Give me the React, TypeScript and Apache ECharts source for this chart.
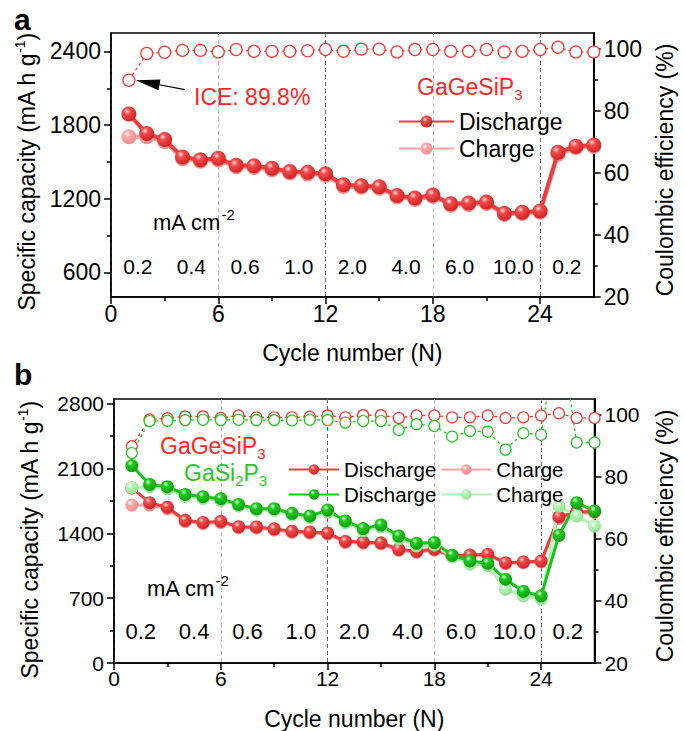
import React, { useEffect, useRef } from 'react';
import * as echarts from 'echarts';

const cycles = [1, 2, 3, 4, 5, 6, 7, 8, 9, 10, 11, 12, 13, 14, 15, 16, 17, 18, 19, 20, 21, 22, 23, 24, 25, 26, 27];
const dischargeGGSP = [1890, 1731, 1682, 1540, 1518, 1529, 1472, 1469, 1448, 1423, 1415, 1404, 1314, 1306, 1298, 1227, 1206, 1230, 1159, 1165, 1173, 1083, 1091, 1100, 1578, 1627, 1638];
const chargeGGSP = [1705, 1705, 1665, 1525, 1505, 1515, 1460, 1455, 1435, 1410, 1402, 1392, 1300, 1293, 1285, 1215, 1195, 1218, 1148, 1153, 1162, 1072, 1080, 1090, 1560, 1615, 1625];
const ceGGSP = [89.8, 98.4, 98.8, 99.4, 99.4, 98.9, 99.7, 99.1, 99.1, 99.1, 99.3, 99.7, 99.1, 99.8, 99.8, 98.9, 99.7, 99.7, 99.1, 99.1, 99.7, 98.9, 99.1, 99.7, 100.4, 98.9, 98.9];
const dischargeGSP = [2132, 1928, 1903, 1820, 1795, 1774, 1712, 1666, 1666, 1616, 1587, 1651, 1533, 1451, 1490, 1371, 1292, 1300, 1163, 1102, 1077, 905, 772, 725, 1379, 1731, 1640];
const chargeGSP = [1892, 1905, 1880, 1800, 1775, 1755, 1695, 1650, 1650, 1600, 1570, 1630, 1515, 1430, 1470, 1340, 1265, 1275, 1145, 1069, 1051, 797, 725, 690, 1694, 1587, 1479];
const ceGSP = [87.6, 97.9, 98.0, 98.2, 98.3, 98.2, 98.3, 98.2, 98.2, 98.1, 98.3, 98.2, 97.4, 97.9, 97.9, 95.0, 96.9, 96.3, 92.9, 94.7, 94.5, 88.7, 94.0, 93.5, 130, 91.0, 91.0];

const rateLabels = ['0.2', '0.4', '0.6', '1.0', '2.0', '4.0', '6.0', '10.0', '0.2'];
const rateCenters = [1.5, 4.5, 7.5, 10.5, 13.5, 16.5, 19.5, 22.5, 25.5];
const xTickLabels = [0, 6, 12, 18, 24];
const xMinorTicks = [3, 9, 15, 21];
const capTicksA = [600, 1200, 1800, 2400];
const capMinorA = [900, 1500, 2100];
const capTicksB = [0, 700, 1400, 2100, 2800];
const capMinorB = [350, 1050, 1750, 2450];
const ceTicks = [20, 40, 60, 80, 100];
const ceMinor = [30, 50, 70, 90];

const FONT = '"Liberation Sans", Arial, Helvetica, sans-serif';
const RED = '#f03c3c';
const PINK = '#ffa3a3';
const GREEN = '#17c417';
const LGREEN = '#b3f5b3';
const RED_TXT = '#ff2626';
const GREEN_TXT = '#1fcc1f';

const sphere = (hi: string, mid: string, edge: string) =>
  new echarts.graphic.RadialGradient(0.38, 0.32, 0.72, [
    { offset: 0, color: hi },
    { offset: 0.3, color: mid },
    { offset: 1, color: edge },
  ]);

const pairs = (arr: number[]) => cycles.map((c, i) => [c, arr[i]]);
const plain = (v: number) => String(v);

const axisLineStyle = { color: '#000', width: 1.5 };

function xMain(grid: number, fs: number) {
  return {
    type: 'value', gridIndex: grid, position: 'bottom', min: 0, max: 27, interval: 3,
    axisLine: { show: true, onZero: false, lineStyle: axisLineStyle },
    axisTick: { show: true, length: 7, customValues: xTickLabels, lineStyle: axisLineStyle },
    axisLabel: {
      customValues: xTickLabels, fontSize: fs, color: '#000', fontFamily: FONT, margin: 5,
      formatter: (v: number) => (v % 6 === 0 && v < 27 ? String(v) : ''),
    },
    splitLine: { show: true, lineStyle: { type: [4, 3], color: ['#666', '#bbb'], width: 1 } },
    name: 'Cycle number (N)', nameLocation: 'middle', nameGap: 44,
    nameTextStyle: { fontSize: 23, color: '#000', fontFamily: FONT },
  };
}
function xMinor(grid: number) {
  return {
    type: 'value', gridIndex: grid, position: 'bottom', min: 0, max: 27,
    axisLine: { show: false, onZero: false },
    axisTick: { show: true, length: 4, customValues: xMinorTicks, lineStyle: axisLineStyle },
    axisLabel: { show: false }, splitLine: { show: false },
  };
}
function yMain(grid: number, pos: string, min: number, max: number, ticks: number[], fs: number, name: string, gap: number, lw: number, shift: number) {
  return {
    type: 'value', gridIndex: grid, position: pos, min, max,
    axisLine: { show: true, onZero: false, lineStyle: { color: '#000', width: lw } },
    axisTick: { show: true, length: 7, customValues: ticks, lineStyle: axisLineStyle },
    axisLabel: { customValues: ticks, fontSize: fs, color: '#000', fontFamily: FONT, margin: 10, formatter: plain },
    splitLine: { show: false },
    name, nameLocation: 'middle', nameGap: gap, nameRotate: 90,
    nameTextStyle: {
      fontSize: 23, color: '#000', fontFamily: FONT,
      padding: [0, shift, 0, 0],
      rich: {
        n: { fontSize: 23, lineHeight: 28, fontFamily: FONT, color: '#000' },
        sup: { fontSize: 14, verticalAlign: 'top', lineHeight: 14, fontFamily: FONT, color: '#000' },
      },
    },
  };
}
function yMinor(grid: number, pos: string, min: number, max: number, ticks: number[]) {
  return {
    type: 'value', gridIndex: grid, position: pos, min, max,
    axisLine: { show: false, onZero: false },
    axisTick: { show: true, length: 4, customValues: ticks, lineStyle: axisLineStyle },
    axisLabel: { show: false }, splitLine: { show: false },
  };
}

function capSeries(name: string, xi: number, yi: number, data: number[], lineColor: string, grad: any, size: number, width: number, z: number) {
  return {
    type: 'line', name, xAxisIndex: xi, yAxisIndex: yi, data: pairs(data),
    symbol: 'circle', symbolSize: size, showSymbol: true,
    lineStyle: { color: lineColor, width }, itemStyle: { color: grad, borderWidth: 0 },
    z, silent: true, emphasis: { disabled: true },
  };
}
function ceSeries(name: string, xi: number, yi: number, data: number[], color: string, size: number, z: number) {
  return {
    type: 'line', name, xAxisIndex: xi, yAxisIndex: yi, data: pairs(data),
    symbol: 'circle', symbolSize: size, showSymbol: true,
    itemStyle: { color: '#fff', borderColor: color, borderWidth: 1.2 },
    lineStyle: { color, width: 1.3, type: [3, 3] },
    z, silent: true, emphasis: { disabled: true },
  };
}
function rateSeries(xi: number, yi: number, y: number, fs: number) {
  return {
    type: 'scatter', xAxisIndex: xi, yAxisIndex: yi, symbolSize: 1,
    itemStyle: { color: '#000', opacity: 0 },
    data: rateCenters.map((x, i) => ({ value: [x, y], name: rateLabels[i] })),
    label: {
      show: true, position: 'inside', formatter: (p: any) => p.name, fontSize: fs,
      color: '#000', opacity: 1, textBorderWidth: 0, fontFamily: FONT,
    },
    silent: true, z: 6,
  };
}

function txt(x: number, y: number, text: string, fs: number, color: string, extra: any = {}) {
  return {
    type: 'text', x, y, silent: true, z: 100,
    style: {
      text, fill: color, fontSize: fs, fontFamily: FONT,
      align: 'left', verticalAlign: 'middle', textAlign: 'left', textVerticalAlign: 'middle',
      rich: {
        n: { fontSize: fs, lineHeight: 30, fontFamily: FONT, fill: color, color },
        sub: { fontSize: 15, lineHeight: 15, verticalAlign: 'bottom', fontFamily: FONT, fill: color, color },
        sup: { fontSize: 15, lineHeight: 15, verticalAlign: 'top', fontFamily: FONT, fill: color, color },
      },
      ...extra,
    },
  };
}

const yName = '{n|Specific capacity (mA h g}{sup|-1}{n|)}';
const ceName = '{n|Coulombic efficiency (%)}';

export default function App() {
  const ref = useRef<HTMLDivElement>(null);
  useEffect(() => {
    if (!ref.current) return;
    const chart = echarts.init(ref.current, undefined, { renderer: 'svg' });
    const option: any = {
      animation: false,
      backgroundColor: '#fff',
      grid: [
        { left: 111, top: 33, width: 490, height: 264, show: true, borderColor: '#000', borderWidth: 1.5, backgroundColor: 'transparent' },
        { left: 114, top: 399, width: 491, height: 265, show: true, borderColor: '#000', borderWidth: 1.5, backgroundColor: 'transparent' },
      ],
      xAxis: [xMain(0, 23), xMinor(0), xMain(1, 21), xMinor(1)],
      yAxis: [
        yMain(0, 'left', 400, 2550, capTicksA, 23, yName, 70, 1.5, 14),
        yMain(0, 'right', 20, 105, ceTicks, 23, ceName, 56, 2, 10),
        yMinor(0, 'left', 400, 2550, capMinorA),
        yMinor(0, 'right', 20, 105, ceMinor),
        yMain(1, 'left', 0, 2850, capTicksB, 21, yName, 70, 1.5, 18),
        yMain(1, 'right', 20, 105, ceTicks, 21, ceName, 56, 2, 10),
        yMinor(1, 'left', 0, 2850, capMinorB),
        yMinor(1, 'right', 20, 105, ceMinor),
      ],
      legend: [
        {
          data: ['a|Discharge', 'a|Charge'], orient: 'vertical', left: 393, top: 105,
          itemWidth: 55, itemHeight: 15, itemGap: 4, selectedMode: false,
          formatter: (n: string) => n.split('|')[1],
          textStyle: { fontSize: 23, color: '#000', fontFamily: FONT },
        },
        {
          data: ['bR|Discharge', 'bR|Charge', 'bG|Discharge', 'bG|Charge'], orient: 'horizontal',
          left: 283, top: 454, width: 285, itemWidth: 50, itemHeight: 13, itemGap: 4, selectedMode: false,
          formatter: (n: string) => n.split('|')[1],
          textStyle: { fontSize: 20.5, color: '#000', fontFamily: FONT },
        },
      ],
      series: [
        capSeries('a|Charge', 0, 0, chargeGGSP, PINK, sphere('#ffffff', '#ffa8a8', '#f08a8a'), 15, 4, 2),
        capSeries('a|Discharge', 0, 0, dischargeGGSP, RED, sphere('#ffe0e0', '#f24a4a', '#cc2020'), 15, 4, 3),
        ceSeries('a|CE', 0, 1, ceGGSP, '#ff3030', 12, 4),
        rateSeries(0, 0, 645, 21),

        capSeries('bR|Charge', 2, 4, chargeGGSP, PINK, sphere('#ffffff', '#ffa8a8', '#f08a8a'), 13, 3, 2),
        capSeries('bR|Discharge', 2, 4, dischargeGGSP, RED, sphere('#ffe0e0', '#f24a4a', '#cc2020'), 13, 3, 3),
        capSeries('bG|Charge', 2, 4, chargeGSP, LGREEN, sphere('#ffffff', '#b8f5b8', '#90e090'), 13, 3, 3),
        capSeries('bG|Discharge', 2, 4, dischargeGSP, GREEN, sphere('#d8ffd8', '#20c820', '#0a9a0a'), 13, 3, 3),
        ceSeries('bR|CE', 2, 5, ceGGSP, '#ff3030', 11, 4),
        ceSeries('bG|CE', 2, 5, ceGSP, '#1ec81e', 11, 4),
        rateSeries(2, 4, 345, 22),
      ],
    };
    chart.setOption(option);

    const p = chart.convertToPixel({ xAxisIndex: 0, yAxisIndex: 1 } as any, [cycles[0], ceGGSP[0]]) as number[];
    const tip = [p[0] + 7, p[1]];
    const tail = [p[0] + 56, p[1] + 9.5];
    const dx = tip[0] - tail[0], dy = tip[1] - tail[1];
    const len = Math.hypot(dx, dy);
    const ux = dx / len, uy = dy / len;
    const px = -uy, py = ux;
    const base = [tip[0] - ux * 24, tip[1] - uy * 24];

    chart.setOption({
      graphic: [
        txt(14, 19, 'a', 30, '#000', { fontWeight: 'bold' }),
        txt(14, 374, 'b', 30, '#000', { fontWeight: 'bold' }),
        {
          type: 'line', silent: true, z: 100,
          shape: { x1: tail[0], y1: tail[1], x2: base[0], y2: base[1] },
          style: { stroke: '#000', lineWidth: 1.2 },
        },
        {
          type: 'polygon', silent: true, z: 100,
          shape: { points: [tip, [base[0] + px * 5.5, base[1] + py * 5.5], [base[0] - px * 5.5, base[1] - py * 5.5]] },
          style: { fill: '#000' },
        },
        txt(194, 97, 'ICE: 89.8%', 23, RED_TXT),
        txt(417, 87, '{n|GaGeSiP}{sub|3}', 23, RED_TXT),
        txt(153, 222, '{n|mA cm}{sup|-2}', 22, '#000'),
        txt(160, 446, '{n|GaGeSiP}{sub|3}', 23, RED_TXT),
        txt(184, 473, '{n|GaSi}{sub|2}{n|P}{sub|3}', 23, GREEN_TXT),
        txt(147, 588, '{n|mA cm}{sup|-2}', 22, '#000'),
      ],
    });

    return () => chart.dispose();
  }, []);
  return <div ref={ref} style={{ position: 'fixed', left: 0, top: 0, width: 684, height: 731 }} />;
}
